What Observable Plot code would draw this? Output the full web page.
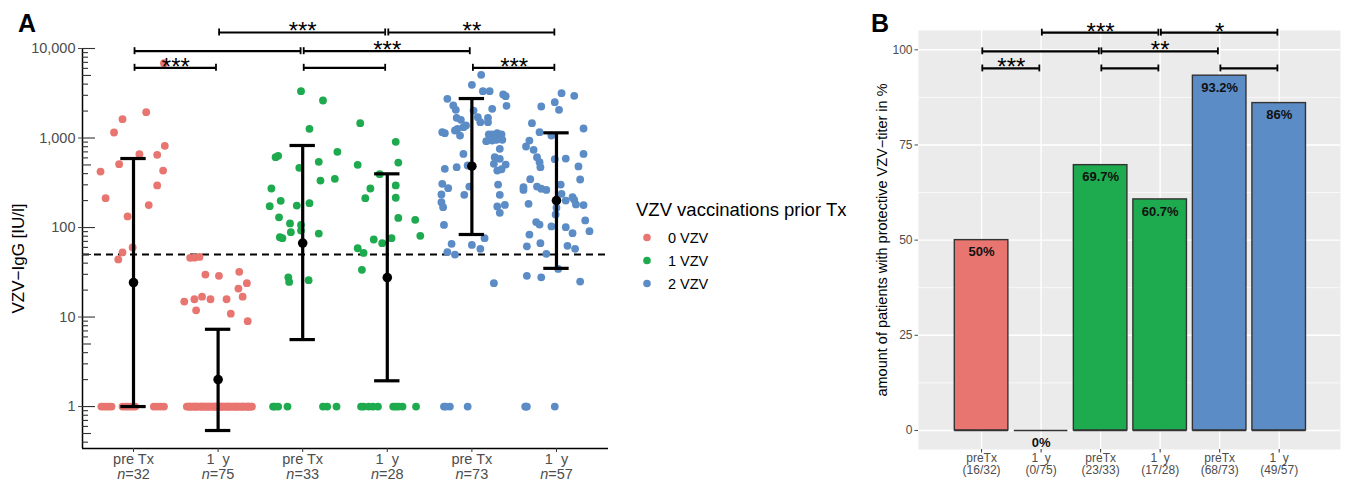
<!DOCTYPE html>
<html><head><meta charset="utf-8">
<script src="https://cdn.jsdelivr.net/npm/d3@7"></script>
<script src="https://cdn.jsdelivr.net/npm/@observablehq/plot@0.6"></script>
<style>
body{margin:0;background:#fff;}
#root{position:relative;width:1345px;height:484px;font-family:"Liberation Sans",Arial,Helvetica,sans-serif;}
#root svg text{white-space:pre;}
#root > svg{position:absolute;top:0;}
</style></head><body><div id="root"></div>
<script>
// ---------- Panel A data ----------
const groupLabels = ["pre Tx","1  y","pre Tx","1  y","pre Tx","1  y"];
const groupN = ["n=32","n=75","n=33","n=28","n=73","n=57"];
const groupVac = ["0 VZV","0 VZV","1 VZV","1 VZV","2 VZV","2 VZV"];
const vacLevels = ["0 VZV","1 VZV","2 VZV"];
const vacColors = ["#E8756F","#1EAA4E","#5B8CC6"];
const legendTitle = "VZV vaccinations prior Tx";

// [jitter offset (category units), VZV-IgG IU/l]
const ptsPre0 = [[0.36,6850],[0.15,1942],[-0.13,1623],[-0.23,1152],[0.37,818],[0.07,659],[0.28,649],[-0.17,510],[-0.39,422],[0.35,433],[0.28,295],[-0.33,213],[0.18,178],[-0.07,133],[-0.01,60],[-0.13,52.6],[-0.18,44],
 [-0.38,1],[-0.35,1],[-0.32,1],[-0.29,1],[-0.26,1],[-0.13,1],[-0.10,1],[-0.07,1],[-0.04,1],[-0.01,1],[0.02,1],[0.24,1],[0.28,1],[0.32,1],[0.36,1]];
const ptsY1_0 = [[-0.33,45.9],[-0.28,46],[-0.22,47],[-0.15,29.8],[0.01,28.9],[0.25,32],[0.34,23.9],[0.24,20.8],[0.29,16.9],[-0.40,14.9],[-0.28,15.8],[-0.19,16.9],[-0.09,15.8],[0.10,15.8],[-0.26,11.9],[0.15,10.9],[0.35,9.0],
 [-0.37,1],[-0.35,1],[-0.33,1],[-0.31,1],[-0.30,1],[-0.28,1],[-0.26,1],[-0.25,1],[-0.23,1],[-0.21,1],[-0.20,1],[-0.18,1],[-0.16,1],[-0.15,1],[-0.13,1],[-0.11,1],[-0.10,1],[-0.08,1],[-0.06,1],[-0.05,1],[-0.03,1],[-0.02,1],[0.00,1],[0.01,1],[0.03,1],[0.04,1],[0.06,1],[0.08,1],[0.09,1],[0.11,1],[0.12,1],[0.14,1],[0.16,1],[0.17,1],[0.19,1],[0.21,1],[0.22,1],[0.24,1],[0.25,1],[0.27,1],[0.29,1],[0.30,1],[0.32,1],[0.34,1],[0.35,1],[0.37,1],[0.39,1],[0.40,1],[-0.34,1],[-0.27,1],[-0.19,1],[-0.12,1],[-0.04,1],[0.05,1],[0.13,1],[0.20,1],[0.28,1],[0.36,1]];
const ptsPre1 = [[-0.02,3335],[0.24,2624],[0.08,1267],[-0.32,611],[-0.29,632],[0.41,701],[0.19,542],[-0.04,464],[0.21,335],[0.38,350],[-0.37,273],[-0.26,199],[-0.39,173],[-0.07,176],[0.08,187],[-0.28,130],[-0.15,111],[-0.02,107],[-0.14,88.7],[-0.02,92.5],[0.19,85.7],[-0.27,77.9],[-0.24,76],[-0.17,27.8],[-0.16,24.7],[0.07,25.8],
 [-0.35,1],[-0.33,1],[-0.29,1],[-0.18,1],[0.24,1],[0.29,1],[0.40,1]];
const ptsY1_1 = [[-0.32,1463],[0.10,906],[-0.35,502],[0.13,532],[-0.09,394],[-0.20,273],[0.10,295],[-0.26,213],[0.10,215],[0.13,128],[0.33,122],[0.39,80.7],[-0.16,73.5],[-0.06,66.8],[0.05,76],[-0.35,58.7],[-0.28,52],[-0.30,33.7],
 [-0.31,1],[-0.28,1],[-0.22,1],[-0.17,1],[-0.11,1],[0.07,1],[0.10,1],[0.13,1],[0.18,1],[0.34,1]];
const ptsPre2 = [[0.11,5085],[0.00,3930],[0.13,3335],[0.21,3335],[0.37,3063],[0.40,2933],[-0.29,2742],[-0.22,2307],[-0.19,2066],[0.02,2028],[0.41,2290],[0.24,2120],[-0.18,1682],[-0.13,1597],[0.07,1707],[0.19,1682],[0.10,1502],[0.19,1502],[-0.07,1380],[-0.10,1321],[-0.17,1268],[-0.20,1214],[-0.35,1162],[-0.32,1132],[-0.14,1066],[0.20,1094],[0.24,1094],[0.30,1132],[0.35,1094],[0.17,921],[0.24,937],[0.29,954],[0.36,954],[0.33,757],[-0.10,665],[0.27,611],[0.33,586],[0.26,515],[0.40,505],[-0.32,453],[-0.18,472],[-0.05,493],[0.30,433],[0.35,448],[-0.35,308],[-0.28,275],[-0.03,287],[0.31,302],[-0.36,234],[-0.09,232],[0.33,232],[-0.36,192],[-0.34,169],[0.30,172],[0.39,179],[0.33,146],[-0.33,107],[0.15,76],[-0.24,65.8],[0.00,64],[0.10,57.8],[-0.29,53],[-0.20,49.9],[0.26,23.9],
 [-0.33,1],[-0.31,1],[-0.26,1],[-0.05,1]];
const ptsY1_2 = [[0.06,3170],[0.21,2963],[-0.02,2512],[-0.18,2248],[0.03,2066],[-0.29,1464],[0.32,1277],[-0.20,1162],[-0.06,1066],[-0.32,937],[-0.36,804],[-0.27,738],[0.32,665],[-0.23,611],[-0.02,580],[0.11,590],[-0.20,537],[-0.19,472],[0.26,481],[-0.31,347],[0.28,344],[-0.39,282],[-0.23,287],[-0.18,271],[-0.12,263],[0.05,302],[0.06,238],[-0.39,263],[0.19,218],[0.21,204],[0.11,200],[0.23,181],[0.32,178],[-0.33,184],[0.00,166],[-0.01,140],[0.34,120],[-0.24,115],[-0.20,108],[-0.06,103],[0.11,101],[0.19,86.5],[0.39,91],[-0.32,83.5],[-0.19,66.8],[0.13,62.5],[0.22,57.8],[-0.12,50.8],[0.02,34.5],[-0.35,28.9],[-0.18,27.8],[0.28,24.9],[-0.35,61.6],
 [-0.37,1],[-0.36,1],[-0.35,1],[-0.02,1]];

// geometric mean and error bar ends
const gmCenter = [24.3, 2.0, 67, 27.6, 484, 200];
const gmLow    = [1.0, 0.54, 5.6, 1.94, 83.6, 35];
const gmHigh   = [590, 7.3, 825, 398, 2760, 1143];
const threshold = 50;

const yTicksA = [1, 10, 100, 1000, 10000];
const yTickLabelsA = ["1", "10", "100", "1,000", "10,000"];
const yLabelA = "VZV\u2212IgG [IU/l]";

const sigA = [
  {from:1, to:3, y:15100, label:"***"}, {from:3, to:5, y:15100, label:"**"},
  {from:0, to:2, y:9330, label:""},     {from:2, to:4, y:9330, label:"***"},
  {from:0, to:1, y:6085, label:"***"},  {from:2, to:3, y:6085, label:""}, {from:4, to:5, y:6085, label:"***"}
];

// ---------- Panel B data ----------
const barGroups = ["preTx","1  y","preTx","1  y","preTx","1  y"];
const barCounts = ["(16/32)","(0/75)","(23/33)","(17/28)","(68/73)","(49/57)"];
const barPct = [50, 0, 69.7, 60.7, 93.2, 86];
const barPctLabels = ["50%","0%","69.7%","60.7%","93.2%","86%"];
const yTicksB = [0, 25, 50, 75, 100];
const yLabelB = "amount of patients with protective VZV\u2212titer in %";
const sigB = [
  {from:1, to:3, y:104.5, label:"***"}, {from:3, to:5, y:104.5, label:"*"},
  {from:0, to:2, y:99.6, label:""},     {from:2, to:4, y:99.6, label:"**"},
  {from:0, to:1, y:95.1, label:"***"},  {from:2, to:3, y:95.1, label:""}, {from:4, to:5, y:95.1, label:""}
];

// ---------- build tables ----------
const pointsA = [ptsPre0, ptsY1_0, ptsPre1, ptsY1_1, ptsPre2, ptsY1_2]
  .flatMap((arr, g) => arr.map(([o, v]) => ({g, o, v, vac: groupVac[g]})));
const statsA = gmCenter.map((c, g) => ({g, c, lo: gmLow[g], hi: gmHigh[g]}));
const barsB = barPct.map((p, i) => ({i, pct: p, lab: barPctLabels[i], vac: groupVac[i]}));
const idx = [0,1,2,3,4,5];
const FONT = '"Liberation Sans", Arial, Helvetica, sans-serif';

// ---------- Panel A ----------
const xDomA = [-0.603, 5.615], yDomA = [0.34, 10000];
const uA = (xDomA[1] - xDomA[0]) / 526; // x units per pixel
const fA = Math.pow(10, 3.5 / 89.5);    // 3.5px in log units
const longT = [1, 10, 100, 1000, 10000];
const midT = [0.5, 5, 50, 500, 5000];
const shortT = [];
[0.1, 1, 10, 100, 1000].forEach(b => [2,3,4,6,7,8,9].forEach(m => { const v = b*m; if (v >= 0.35 && v < 10000) shortT.push(v); }));

const plotA = Plot.plot({
  width: 620, height: 484, marginLeft: 82, marginRight: 12, marginTop: 48, marginBottom: 36,
  x: {type: "linear", domain: xDomA, axis: null},
  y: {type: "log", domain: yDomA, axis: null},
  color: {domain: vacLevels, range: vacColors},
  style: {fontFamily: FONT, background: "transparent", overflow: "visible"},
  marks: [
    Plot.ruleY([threshold], {x1: xDomA[0], x2: xDomA[1], stroke: "#000", strokeWidth: 1.8, strokeDasharray: "7,5"}),
    Plot.dot(pointsA, {x: d => d.g + d.o, y: "v", r: 3.9, fill: "vac"}),
    Plot.ruleX(statsA, {x: "g", y1: "lo", y2: "hi", stroke: "#000", strokeWidth: 3.2}),
    Plot.ruleY(statsA, {y: "lo", x1: d => d.g - 0.15, x2: d => d.g + 0.15, stroke: "#000", strokeWidth: 3.2}),
    Plot.ruleY(statsA, {y: "hi", x1: d => d.g - 0.15, x2: d => d.g + 0.15, stroke: "#000", strokeWidth: 3.2}),
    Plot.dot(statsA, {x: "g", y: "c", r: 4.8, fill: "#000"}),
    // axis lines
    Plot.ruleX([xDomA[0]], {y1: yDomA[0], y2: 10000, stroke: "#000", strokeWidth: 1.5}),
    Plot.ruleY([yDomA[0]], {x1: xDomA[0], x2: xDomA[1], stroke: "#000", strokeWidth: 1.5}),
    // log ticks inside
    Plot.ruleY(longT, {x1: xDomA[0], x2: xDomA[0] + 13 * uA, stroke: "#333", strokeWidth: 1.1}),
    Plot.ruleY(midT, {x1: xDomA[0], x2: xDomA[0] + 9 * uA, stroke: "#333", strokeWidth: 1.1}),
    Plot.ruleY(shortT, {x1: xDomA[0], x2: xDomA[0] + 6 * uA, stroke: "#333", strokeWidth: 1.1}),
    Plot.axisY({ticks: yTicksA, tickFormat: d => yTickLabelsA[yTicksA.indexOf(d)], tickSize: 4, tickPadding: 3, fontSize: 14.5, color: "#4D4D4D", label: null}),
    Plot.axisX({ticks: idx, tickFormat: () => "", tickSize: 4, color: "#333", label: null}),
    Plot.text(idx, {x: d => d, frameAnchor: "bottom", text: d => groupLabels[d], dy: 15, fontSize: 14.5, fill: "#4D4D4D"}),
    Plot.text(idx, {x: d => d, frameAnchor: "bottom", text: d => groupN[d], dy: 30.5, fontSize: 14.5, fill: "#4D4D4D"}),
    Plot.text([yLabelA], {frameAnchor: "left", textAnchor: "middle", text: d => d, rotate: -90, dx: -64, dy: 10, fontSize: 17, fill: "#000"}),
    // significance brackets
    Plot.ruleY(sigA, {y: "y", x1: d => d.from + 0.012, x2: d => d.to - 0.025, stroke: "#000", strokeWidth: 2.2}),
    Plot.ruleX(sigA, {x: d => d.from + 0.012, y1: d => d.y / fA, y2: d => d.y * fA, stroke: "#000", strokeWidth: 1.8}),
    Plot.ruleX(sigA, {x: d => d.to - 0.025, y1: d => d.y / fA, y2: d => d.y * fA, stroke: "#000", strokeWidth: 1.8}),
    Plot.text(sigA.filter(d => d.label), {x: d => (d.from + d.to) / 2, y: "y", text: "label", fontSize: 24, lineAnchor: "bottom", dy: 7, fill: "#000"})
  ]
});
plotA.style.left = "0px";

// ---------- Panel B ----------
const xDomB = [-1.06, 6.03], yDomB = [-5, 105.07];
const plotB = Plot.plot({
  width: 505, height: 484, marginLeft: 78, marginRight: 5, marginTop: 30, marginBottom: 35,
  x: {type: "linear", domain: xDomB, axis: null},
  y: {type: "linear", domain: yDomB, axis: null},
  color: {domain: vacLevels, range: vacColors},
  style: {fontFamily: FONT, background: "transparent", overflow: "visible"},
  marks: [
    Plot.frame({fill: "#EBEBEB", stroke: null}),
    Plot.ruleY([12.5, 37.5, 62.5, 87.5], {stroke: "#fff", strokeWidth: 0.7}),
    Plot.ruleY(yTicksB, {stroke: "#fff", strokeWidth: 1.4}),
    Plot.ruleX(idx, {stroke: "#fff", strokeWidth: 1.4}),
    Plot.rectY(barsB, {x1: d => d.i - 0.45, x2: d => d.i + 0.45, y1: d => 0, y2: "pct", fill: "vac", stroke: "#333", strokeWidth: 1.4}),
    Plot.ruleY(barsB, {y: d => 0, x1: d => d.i - 0.45, x2: d => d.i + 0.45, stroke: "#333", strokeWidth: 1.4}),
    Plot.text(barsB, {x: "i", y: "pct", text: "lab", dy: 12, fontSize: 13, fontWeight: "bold", fill: "#111"}),
    Plot.axisY({ticks: yTicksB, tickSize: 3.5, tickPadding: 2.5, fontSize: 12, color: "#4D4D4D", label: null}),
    Plot.axisX({ticks: idx, tickFormat: () => "", tickSize: 3.5, color: "#333", label: null}),
    Plot.text(idx, {x: d => d, frameAnchor: "bottom", text: d => barGroups[d], dy: 12, fontSize: 12, fill: "#4D4D4D"}),
    Plot.text(idx, {x: d => d, frameAnchor: "bottom", text: d => barCounts[d], dy: 24, fontSize: 12, fill: "#4D4D4D"}),
    Plot.text([yLabelB], {frameAnchor: "left", textAnchor: "middle", text: d => d, rotate: -90, dx: -36, fontSize: 14.5, fill: "#000"}),
    Plot.ruleY(sigB, {y: "y", x1: d => d.from + 0.012, x2: d => d.to - 0.03, stroke: "#000", strokeWidth: 2.2}),
    Plot.ruleX(sigB, {x: d => d.from + 0.012, y1: d => d.y - 0.9, y2: d => d.y + 0.9, stroke: "#000", strokeWidth: 1.8}),
    Plot.ruleX(sigB, {x: d => d.to - 0.03, y1: d => d.y - 0.9, y2: d => d.y + 0.9, stroke: "#000", strokeWidth: 1.8}),
    Plot.text(sigB.filter(d => d.label), {x: d => (d.from + d.to) / 2, y: "y", text: "label", fontSize: 24, lineAnchor: "bottom", dy: 7, fill: "#000"})
  ]
});
plotB.style.left = "840px";

const root = document.getElementById("root");
root.appendChild(plotA);
root.appendChild(plotB);

// italic "n" in sample size labels
d3.select(plotA).selectAll("text").each(function () {
  const t = this.textContent;
  if (/^n=\d+$/.test(t) && this.children.length === 0) {
    this.textContent = "";
    d3.select(this).append("tspan").attr("font-style", "italic").text("n");
    d3.select(this).append("tspan").text(t.slice(1));
  }
});

// ---------- legend and panel letters ----------
const ov = d3.select(root).append("svg").attr("width", 1345).attr("height", 484)
  .style("left", "0px").style("font-family", FONT);
ov.append("text").attr("x", 18).attr("y", 32).attr("font-size", 25).attr("font-weight", "bold").text("A");
ov.append("text").attr("x", 871).attr("y", 32).attr("font-size", 25).attr("font-weight", "bold").text("B");
ov.append("text").attr("x", 636).attr("y", 215.5).attr("font-size", 18.5).attr("fill", "#000").text(legendTitle);
vacLevels.forEach((lv, k) => {
  const cy = 237.5 + k * 23;
  ov.append("circle").attr("cx", 647).attr("cy", cy).attr("r", 3.8).attr("fill", vacColors[k]);
  ov.append("text").attr("x", 668).attr("y", cy + 5.2).attr("font-size", 14.5).attr("fill", "#000").text(lv);
});
</script></body></html>
